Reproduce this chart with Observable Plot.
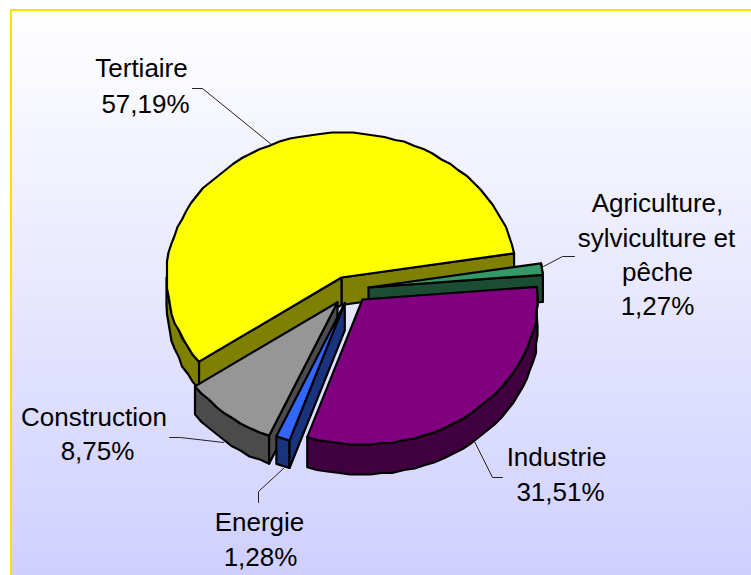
<!DOCTYPE html>
<html><head><meta charset="utf-8">
<style>html,body{margin:0;padding:0;background:#fff}svg{display:block}</style>
<script src="https://cdn.jsdelivr.net/npm/d3@7"></script>
<script src="https://cdn.jsdelivr.net/npm/@observablehq/plot@0.6"></script>
</head><body>
<script>
// Data
const categories = ["Tertiaire", "Agriculture", "Industrie", "Energie", "Construction"];
const shares = [57.19, 1.27, 31.51, 1.28, 8.75];
const valueLabels = ["57,19%", "1,27%", "31,51%", "1,28%", "8,75%"];

// Style
const topColors = ["#FFFF00", "#339966", "#800080", "#3366FF", "#969696"];
const sideColors = ["#808000", "#1A4D33", "#400040", "#1A337F", "#4B4B4B"];

// Layout of the exploded 3D pie, in pixels
const W = 751, H = 575;
const rx = 175, ry = 145, firstAngle = 80.4;
const apexX = [341, 368, 362, 344.3, 337];
const apexY = [277, 287, 299, 302.4, 301.7];
const depths = [27.5, 27, 30, 27.5, 28];
const grid = 1.5;

const snap = v => Math.round(v / grid) * grid;
let cursor = firstAngle;
// Clockwise order starting at firstAngle: Agriculture, Industrie, Energie, Construction, Tertiaire
const order = [1, 2, 3, 4, 0];
const spans = {};
order.forEach(i => { spans[i] = [cursor, cursor + shares[i] * 3.6]; cursor = spans[i][1]; });

function point(i, deg, down = 0) {
  const r = deg * Math.PI / 180;
  return {x: apexX[i] + rx * Math.sin(r), y: apexY[i] - ry * Math.cos(r) + down};
}
function arc(i, a0, a1, down = 0) {
  const n = Math.max(1, Math.round(Math.abs(a1 - a0) / 3.5));
  return d3.range(n + 1).map(k => {
    const p = point(i, a0 + (a1 - a0) * k / n, down);
    return (k === 0 || k === n) ? p : {x: snap(p.x), y: snap(p.y)};
  });
}
const apex = (i, down = 0) => ({x: apexX[i], y: apexY[i] + down});
const topFace = (i) => [apex(i), ...arc(i, spans[i][0], spans[i][1])];
const wall = (i, a0, a1) => [...arc(i, a0, a1), ...arc(i, a1, a0, depths[i])];
const face = (i, a) => [apex(i), point(i, a), point(i, a, depths[i]), apex(i, depths[i])];

const [t0, t1] = spans[0];
const [g0, g1] = spans[1];
const [p0, p1] = spans[2];
const [b0, b1] = spans[3];
const [c0, c1] = spans[4];
const polys = [
  [face(0, t1), sideColors[0]],
  [face(0, t0), sideColors[0]],
  [wall(0, t0, 270), sideColors[0]],
  [topFace(0), topColors[0]],
  [wall(1, g0, g1), sideColors[1]],
  [face(1, g1), sideColors[1]],
  [topFace(1), topColors[1]],
  [wall(4, c0, c1), sideColors[4]],
  [face(4, c0), sideColors[4]],
  [topFace(4), topColors[4]],
  [wall(3, b0, b1), sideColors[3]],
  [face(3, b0), sideColors[3]],
  [topFace(3), topColors[3]],
  [wall(2, p0, p1), sideColors[2]],
  [topFace(2), topColors[2]]
];

// Labels
const labelLines = [
  {t: categories[0], x: 141, y: 68},
  {t: valueLabels[0], x: 145, y: 104},
  {t: "Agriculture,", x: 657, y: 203},
  {t: "sylviculture et", x: 656, y: 238},
  {t: "pêche", x: 657, y: 272},
  {t: valueLabels[1], x: 657, y: 306},
  {t: categories[2], x: 556, y: 457},
  {t: valueLabels[2], x: 560, y: 492},
  {t: categories[3], x: 259, y: 522},
  {t: valueLabels[3], x: 260, y: 557},
  {t: categories[4], x: 93.5, y: 417},
  {t: valueLabels[4], x: 97, y: 451}
];
const leaders = [
  [[192, 88], [202, 88], [271, 144]],
  [[543, 266], [562, 256], [574, 256]],
  [[474, 441], [492, 477], [502, 477]],
  [[169, 437], [180, 437], [223, 442]],
  [[283, 468], [258, 491], [258, 502]]
];

const defs = () => {
  const s = d3.create("svg:defs");
  const g = s.append("linearGradient").attr("id", "bgGrad").attr("x1", 0).attr("x2", 0).attr("y1", 0).attr("y2", 1);
  g.append("stop").attr("offset", 0).attr("stop-color", "#FFFFFF");
  g.append("stop").attr("offset", 1).attr("stop-color", "#CFCFFF");
  return s.node();
};

const plot = Plot.plot({
  width: W, height: H, margin: 0,
  x: {domain: [0, W], range: [0, W], axis: null},
  y: {domain: [0, H], range: [0, H], axis: null},
  style: {background: "#fff", fontFamily: "'Liberation Sans', Arial, sans-serif"},
  marks: [
    defs,
    Plot.rect([{x1: 11, x2: W + 4, y1: 10, y2: H + 4}], {x1: "x1", x2: "x2", y1: "y1", y2: "y2", fill: "url(#bgGrad)", stroke: "#FFE100", strokeWidth: 2}),
    ...leaders.map(l => Plot.line(l, {x: d => d[0], y: d => d[1], stroke: "#222", strokeWidth: 1})),
    ...polys.map(([pts, color]) => Plot.line(pts, {x: "x", y: "y", fill: color, stroke: "#000", strokeWidth: 2.2, strokeLinejoin: "round", curve: "linear-closed"})),
    Plot.text(labelLines, {x: "x", y: "y", text: "t", fontSize: 26, fill: "#000", textAnchor: "middle"})
  ]
});
document.body.appendChild(plot);
</script>
</body></html>
